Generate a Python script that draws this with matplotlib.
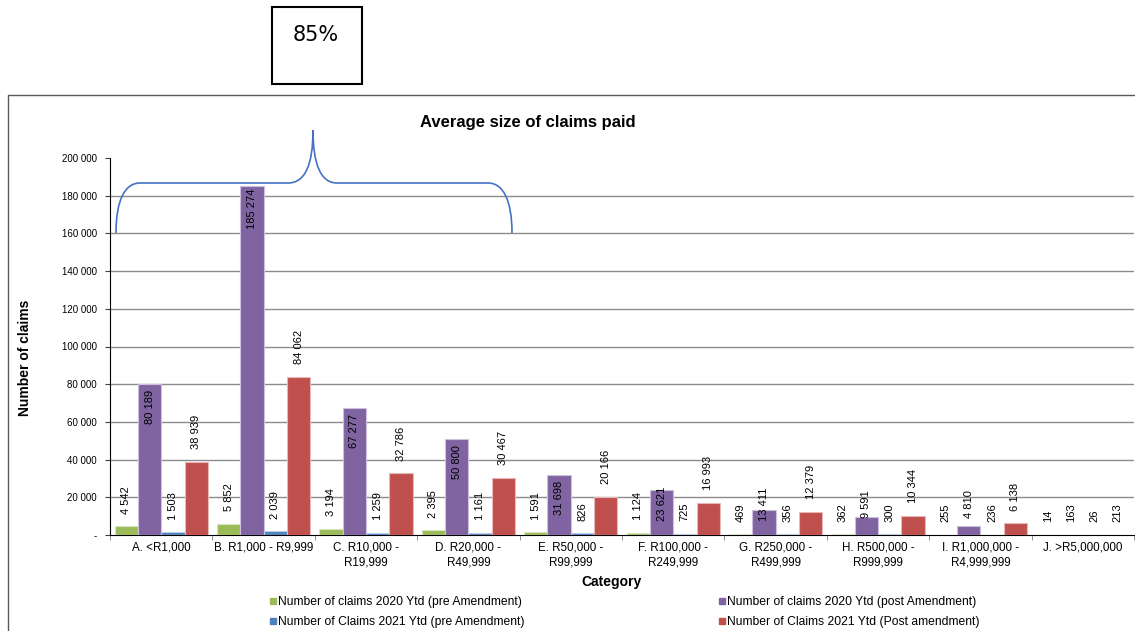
import matplotlib as mpl
mpl.use('Agg')
import matplotlib.pyplot as plt
import matplotlib.lines as mlines
from matplotlib.path import Path
from matplotlib.patches import PathPatch, Rectangle
import numpy as np

plt.rcParams['font.family'] = ['Liberation Sans', 'DejaVu Sans']

categories = ['A. <R1,000', 'B. R1,000 - R9,999', 'C. R10,000 -\nR19,999',
              'D. R20,000 -\nR49,999', 'E. R50,000 -\nR99,999',
              'F. R100,000 -\nR249,999', 'G. R250,000 -\nR499,999',
              'H. R500,000 -\nR999,999', 'I. R1,000,000 -\nR4,999,999',
              'J. >R5,000,000']
claims_2020_pre = [4542, 5852, 3194, 2395, 1591, 1124, 469, 362, 255, 14]
claims_2020_post = [80189, 185274, 67277, 50800, 31698, 23621, 13411, 9591, 4810, 163]
claims_2021_pre = [1503, 2039, 1259, 1161, 826, 725, 356, 300, 236, 26]
claims_2021_post = [38939, 84062, 32786, 30467, 20166, 16993, 12379, 10344, 6138, 213]

series_names = ['Number of claims 2020 Ytd (pre Amendment)',
                'Number of claims 2020 Ytd (post Amendment)',
                'Number of Claims 2021 Ytd (pre Amendment)',
                'Number of Claims 2021 Ytd (Post amendment)']
colors = ['#9BBB59', '#8064A2', '#4F81BD', '#C0504D']
edges = ['#d7e4bd', '#ccc1da', '#b9cde5', '#e6b9b8']

yticks = np.arange(0, 200001, 20000)
ytick_labels = ['-'] + ['{:,}'.format(v).replace(',', ' ') for v in yticks[1:]]

W, H = 1135, 631
fig = plt.figure(figsize=(W / 100, H / 100), dpi=100)


def px(x, y):
    # pixel position (from top-left) to figure fraction
    return x / W, 1 - y / H


ax = fig.add_axes([110 / W, 96 / H, 1024 / W, 377 / H])

x = np.arange(len(categories))
bw = 0.228
all_series = [claims_2020_pre, claims_2020_post, claims_2021_pre, claims_2021_post]


def fmt(v):
    return '{:,}'.format(v).replace(',', ' ')


for k, vals in enumerate(all_series):
    pos = x + (k - 1.5) * bw
    ax.bar(pos, vals, width=bw, color=colors[k], edgecolor=edges[k],
           linewidth=0.8, zorder=3)
    for xp, v in zip(pos, vals):
        if k == 1 and v > 4000:
            # inside-end labels for the big purple bars
            yc = max(v - 12000, 16500)
            ax.text(xp, yc, fmt(v), rotation=90, ha='center', va='center',
                    fontsize=8, color='black', zorder=4)
        else:
            ax.annotate(fmt(v), (xp, v), xytext=(0, 9), textcoords='offset points',
                        rotation=90, ha='center', va='bottom', fontsize=8,
                        color='black', zorder=4)

ax.set_xlim(-0.5, len(categories) - 0.5)
ax.set_ylim(0, 200000)
ax.set_yticks(yticks)
ax.set_yticklabels(ytick_labels, fontsize=7)
for v in yticks[1:-1]:
    ax.axhline(v, color='#8c8c8c', lw=1, zorder=1)

ax.set_xticks(x)
ax.set_xticklabels(categories, fontsize=8.4, linespacing=1.25)
ax.set_xticks(np.arange(-0.5, len(categories)), minor=True)
ax.tick_params(axis='x', which='major', length=0, pad=5)
ax.tick_params(axis='x', which='minor', length=3.6, direction='out', color='#808080')
ax.tick_params(axis='y', length=3.6, direction='out', pad=5.8, color='#404040')

for s in ['top', 'right']:
    ax.spines[s].set_visible(False)
ax.spines['left'].set_color('black')
ax.spines['bottom'].set_color('black')
ax.set_facecolor('none')

fig.text(*px(528, 123), 'Average size of claims paid', fontsize=12,
         fontweight='bold', ha='center', va='center')
fig.text(*px(611, 582), 'Category', fontsize=10, fontweight='bold',
         ha='center', va='center')
fig.text(*px(25, 358), 'Number of claims', fontsize=10, fontweight='bold',
         rotation=90, ha='center', va='center')

# legend, filled column-wise
order = [0, 2, 1, 3]
handles = [mlines.Line2D([], [], color=colors[i], marker='s', linestyle='None',
                         markersize=5, label=series_names[i]) for i in order]
fig.legend(handles=handles, ncol=2, loc='center', bbox_to_anchor=px(625, 612),
           frameon=False, fontsize=8.7, handlelength=0.4, handletextpad=0.2,
           columnspacing=16.2, labelspacing=0.7, borderpad=0)

# chart border
fig.add_artist(mlines.Line2D([8 / W, 8 / W, 1], [0, 1 - 95 / H, 1 - 95 / H],
                             transform=fig.transFigure, color='#595959', lw=1))

# curly brace over the first four groups
verts = [(116, 233), (116, 200), (125, 183), (140, 183),
         (288, 183),
         (305, 183), (313, 165), (313, 130),
         (313, 165), (321, 183), (337, 183),
         (488, 183),
         (503, 183), (512, 200), (512, 233)]
codes = [Path.MOVETO, Path.CURVE4, Path.CURVE4, Path.CURVE4,
         Path.LINETO,
         Path.CURVE4, Path.CURVE4, Path.CURVE4,
         Path.CURVE4, Path.CURVE4, Path.CURVE4,
         Path.LINETO,
         Path.CURVE4, Path.CURVE4, Path.CURVE4]
brace = Path([px(a, b) for a, b in verts], codes)
fig.add_artist(PathPatch(brace, transform=fig.transFigure, fill=False,
                         edgecolor='#4472C4', lw=1.2))

# percentage box
x0, y0 = px(272, 84)
fig.add_artist(Rectangle((x0, y0), 90 / W, 77 / H, transform=fig.transFigure,
                         fill=False, edgecolor='black', lw=1.5))
fig.text(*px(316, 35), '85%', fontsize=15, ha='center', va='center',
         family=['DejaVu Sans'])

plt.savefig('out.png', dpi=100)
